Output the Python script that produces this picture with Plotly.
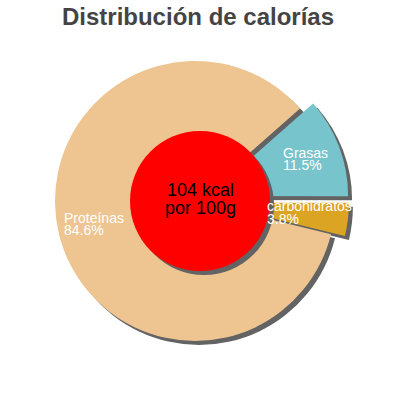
import plotly.graph_objects as go

# data
labels = ["Grasas", "carbohidratos", "Proteínas"]
percents = [11.5, 3.8, 84.6]
pulls = [0.1, 0.1, 0]
colors = ["#77c4cd", "#dba423", "#eec591"]
center_lines = ["104 kcal", "por 100g"]
title = "Distribución de calorías"

W = H = 400
FONT = "Liberation Sans, Arial, sans-serif"


def px2paper(x, y):
    # page pixels -> paper coords
    return x / W, (H - y) / H


# pie box in pixels (centre 195,201, radius 140, pull 0.1)
cx, cy, half = 195, 201, 154
sh = 4  # shadow offset


def pie_domain(dx, dy):
    x0, y1 = px2paper(cx - half + dx, cy - half + dy)
    x1, y0 = px2paper(cx + half + dx, cy + half + dy)
    return dict(x=[x0, x1], y=[y0, y1])


fig = go.Figure()

# shadow copy of the pie
fig.add_trace(go.Pie(
    labels=labels, values=percents, pull=pulls, sort=False,
    direction="clockwise", rotation=48.6,
    marker=dict(colors=["#636363"] * 3, line=dict(width=0)),
    textinfo="none", hoverinfo="skip", showlegend=False,
    domain=pie_domain(sh, sh),
))

fig.add_trace(go.Pie(
    labels=labels, values=percents, pull=pulls, sort=False,
    direction="clockwise", rotation=48.6,
    marker=dict(colors=colors, line=dict(width=0)),
    textinfo="none", showlegend=False,
    domain=pie_domain(0, 0),
))

# red centre disc with its shadow
rx, ry, rr = 200, 201, 70
for off, col in [(sh, "#636363"), (0, "#ff0000")]:
    x0, y1 = px2paper(rx - rr + off, ry - rr + off)
    x1, y0 = px2paper(rx + rr + off, ry + rr + off)
    fig.add_shape(type="circle", xref="paper", yref="paper",
                  x0=x0, x1=x1, y0=y0, y1=y1,
                  fillcolor=col, line=dict(width=0))

annotations = []
# slice labels, one annotation per line (x, first baseline)
label_pos = [(281, 158), (265, 211), (62, 223)]
for lab, pct, (lx, ly) in zip(labels, percents, label_pos):
    for i, txt in enumerate([lab, f"{pct}%"]):
        ax, ay = px2paper(lx, ly + 12.5 * i - 5)
        annotations.append(dict(
            x=ax, y=ay, xref="paper", yref="paper", text=txt,
            showarrow=False, xanchor="left", yanchor="middle",
            font=dict(family=FONT, size=14, color="white")))

for i, txt in enumerate(center_lines):
    ax, ay = px2paper(200, 196 + 17.5 * i - 6)
    annotations.append(dict(
        x=ax, y=ay, xref="paper", yref="paper", text=txt,
        showarrow=False, xanchor="center", yanchor="middle",
        font=dict(family=FONT, size=18, color="black")))

fig.update_layout(
    width=W, height=H, autosize=False,
    margin=dict(l=0, r=0, t=0, b=0),
    paper_bgcolor="white", plot_bgcolor="white",
    title=dict(text=f"<b>{title}</b>", x=198 / W, xanchor="center",
               y=1 - 17 / H, yanchor="middle",
               font=dict(family=FONT, size=24, color="#444444")),
    annotations=annotations,
)

# drop the default body margin so the figure fills the window
fig.write_html("out.html", config={"displayModeBar": False},
               post_script="document.body.style.margin='0';")
